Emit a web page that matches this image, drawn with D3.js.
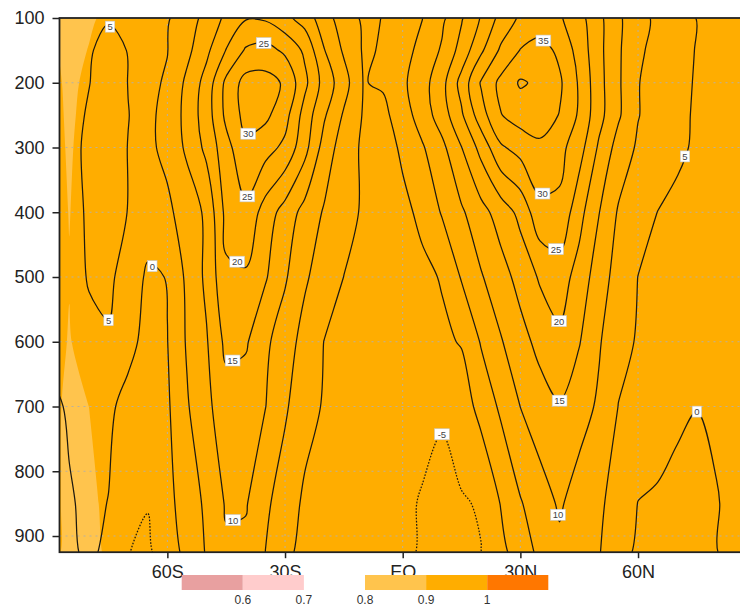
<!DOCTYPE html>
<html><head><meta charset="utf-8">
<script src="https://cdn.jsdelivr.net/npm/d3@7"></script>
<style>body{margin:0;background:#fff} svg{display:block}</style>
</head><body><svg id="c" width="740" height="608"></svg>
<script>
// ---------------- data ----------------
const lats = [-90,-85,-80,-75,-70,-65,-60,-55,-50,-45,-40,-35,-30,-25,-20,-15,-10,-5,0,5,10,15,20,25,30,35,40,45,50,55,60,65,70,75,80,85,90];
const levels = [100,150,200,250,300,400,500,600,700,850,925];
// zonal wind (m/s), one row per pressure level
const u100 = [2.5,3.3,3.9,4.75,4.9,3.8,4.6,7.3,11.8,16.0,19.6,19.3,16.3,12.9,7.1,2.5,-0.75,0.1,2.5,4.9,8.9,14.5,20.4,26.6,30.8,32,30.6,26.8,21.3,15.8,11.8,8.9,6.8,4.9,4.2,3.5,3];
const u150 = [3,3.7,4.7,6,4.9,4.3,4.9,8.7,13.9,20.2,25.6,26.8,24.1,19.1,10.2,4.3,-0.5,0.3,3.2,6.5,10.6,16.9,24.2,30.8,35.2,37.1,33.9,28.1,21.4,15.7,10.9,8.4,6.4,4.8,4.2,3.5,3];
const u200 = [2.8,3.6,4.9,6.5,4.95,4.2,5.4,11.1,16.9,26.2,31.9,31.8,29.4,21.3,13.0,7.1,-0.2,0.6,4.1,8.0,13.3,21.8,30.5,36.3,40.6,39.0,35.8,29.4,21.7,15.7,10.2,8,6,4.7,4.1,3.5,3];
const u250 = [2.8,3.8,5.35,6.5,5.05,4.2,6.1,11.7,17.5,26.2,31.6,31.1,26.9,18,10.6,4.4,-0.4,-1.3,2.7,7.3,12.5,19.3,27.9,34.8,37.2,37.5,34.8,29.3,21.7,15.7,10.2,7.9,5.8,4.6,4.1,3.5,3];
const u300 = [2.6,4.1,5.6,6.1,4.95,4.2,6,11,16.25,23.3,29,27,23.8,16.7,7.9,2.5,-0.8,-2.0,0.75,4.5,8.7,14.9,21.7,29.3,31.9,34,31.5,27.1,19.3,13,9.3,7.7,5.4,4.7,4.1,3.5,3];
const u400 = [2.5,3.9,5.4,5.85,4.95,3.3,4.2,6.8,11.05,21.5,24.0,17.7,13,8.3,4.5,1.8,-0.6,-2.5,-1.1,1.0,5.4,9.3,13.3,17.2,21.4,28.5,29,21.7,15.2,9.5,7.1,4.95,4.5,4.0,3.5,3.2,3];
const u500 = [2.8,3.8,5.2,5.6,3.7,-1.0,0.2,6,11.05,19.2,19.3,15.5,10.6,5.7,2.6,-0.05,-1.3,-2.5,-2.25,-1,0.3,5.4,9.6,13,16.7,20.6,22.3,18.1,12.3,8.1,4.95,4.3,3.6,3.0,2.8,2.7,2.5];
const u600 = [1.2,2.3,4.3,4.7,1.3,-1.4,-0.1,5.5,9.6,16.3,15.6,11,7.3,3.3,-0.1,-1.0,-2.06,-3.1,-2.9,-1.9,-0.8,0.3,5.4,9.6,13.2,16.5,19.0,15.3,10.5,6.5,4.6,3.9,3.2,2.5,2.3,2.1,2];
const u700 = [-1.2,0.55,2.5,0.8,-1.4,-3.0,-0.7,4.5,9,12.5,12.3,10.1,5.7,1.7,-0.4,-1.1,-1.9,-2.8,-3.5,-4.2,-4.6,-2.5,1.6,5.85,10.05,12.7,14.6,12,9.3,4.9,3.5,2.5,0.9,0.05,0.3,1,1.2];
const u850 = [-1.5,-0.4,0.9,-0.1,-2.9,-4.8,-1.3,2.1,6.0,10.5,10.4,5.95,2.5,-0.8,-1.6,-2.4,-3.2,-3.9,-4.5,-5.2,-6,-5.4,-4.6,0.2,4.6,7.8,10.6,7.85,5.8,3.1,-0.1,-0.7,-1.4,-0.9,-0.1,0.5,1];
const u925 = [-2,-0.8,0.85,-1.0,-4.9,-5.8,-2.5,1.4,5.4,9.2,8.8,4.95,0.5,-0.6,-1.3,-2.1,-2.9,-3.6,-4.4,-5.3,-6.3,-5.9,-5.1,-1.4,2.5,6.1,9,7.1,5.3,1.8,-0.8,-1.2,-2,-1.0,-0.05,0.6,1.2];
const uRows = [u100,u150,u200,u250,u300,u400,u500,u600,u700,u850,u925];
const contourLevels = [-5,0,5,10,15,20,25,30,35,40];

// shaded field (correlation) on a coarse latitude set
const corrLats = [-90,-85,-80,-75,-70,90];
const c100 = [0.90,0.84,0.88,0.93,0.95,0.95];
const c150 = [0.93,0.855,0.905,0.95,0.95,0.95];
const c200 = [0.95,0.87,0.93,0.95,0.95,0.95];
const c250 = [0.95,0.88,0.94,0.95,0.95,0.95];
const c300 = [0.95,0.887,0.95,0.95,0.95,0.95];
const c400 = [0.95,0.897,0.95,0.95,0.95,0.95];
const c500 = [0.95,0.905,0.95,0.95,0.95,0.95];
const c600 = [0.95,0.893,0.95,0.95,0.95,0.95];
const c700 = [0.96,0.86,0.90,0.95,0.95,0.95];
const c850 = [0.98,0.84,0.87,0.93,0.95,0.95];
const c925 = [0.99,0.83,0.86,0.92,0.95,0.95];
const corrRows = [c100,c150,c200,c250,c300,c400,c500,c600,c700,c850,c925];
const fillBreaks = [0.8,0.9,1.0];
const fillColors = ['#FFC44D','#FFAD00','#FF7700'];

const yTicks = [100,200,300,400,500,600,700,800,900];
const xTickLats = [-60,-30,0,30,60];
const xTickLabels = ['60S','30S','EQ','30N','60N'];

const cbBreaks = [0.5,0.6,0.7,0.8,0.9,1.0,1.1];
const cbColors = ['#E8A0A0','#FFCCCC',null,'#FFC44D','#FFAD00','#FF7700'];
const cbLabels = [0.6,0.7,0.8,0.9,1];

const labelSpecs = [
  {v:5,lat:-72.6,p:105},{v:25,lat:-35.7,p:132},{v:30,lat:-38.8,p:285},{v:25,lat:-38.8,p:378},
  {v:20,lat:-42.6,p:480},{v:15,lat:-42.4,p:640},{v:10,lat:-43.1,p:878},{v:0,lat:-61.2,p:466},
  {v:5,lat:-76.5,p:573},{v:35,lat:35.5,p:137},{v:30,lat:35.5,p:369},{v:25,lat:39,p:458},
  {v:20,lat:39,p:571},{v:15,lat:39,p:695},{v:10,lat:39,p:868},{v:-5,lat:9.5,p:735},
  {v:5,lat:72.5,p:315},{v:0,lat:76.4,p:705}
];

// ---------------- drawing ----------------
const FONT = "'Liberation Sans', Arial, Helvetica, sans-serif";
const svg = d3.select('#c');
const X0 = 59.5, X1 = 745.9, Y0 = 18, Y1 = 552.2;
const x = d3.scaleLinear().domain([-87.5, 87.5]).range([X0, X1]);
const y = d3.scaleLinear().domain([100, 925]).range([Y0, Y1]);

function makeProj(latArr, levArr) {
  const li = d3.scaleLinear().domain(latArr.map((d,i)=>i)).range(latArr);
  const pi = d3.scaleLinear().domain(levArr.map((d,i)=>i)).range(levArr);
  const toPx = c => [x(li(c[0]-0.5)), y(pi(c[1]-0.5))];
  return {toPx};
}
const smoothLine = d3.line().curve(d3.curveCatmullRomClosed.alpha(0.5));
function smoothPath(mp, toPx) {
  let s = '';
  mp.coordinates.forEach(poly => poly.forEach(ring => {
    const pts = ring.slice(0, -1).map(toPx);
    if (pts.length > 2) s += smoothLine(pts);
  }));
  return s;
}

svg.append('rect').attr('width',740).attr('height',608).attr('fill','#fff');
svg.append('defs').append('clipPath').attr('id','clip').append('rect')
  .attr('x',X0).attr('y',Y0).attr('width',X1-X0).attr('height',Y1-Y0);

const plot = svg.append('g').attr('clip-path','url(#clip)');

// shading
const cp = makeProj(corrLats, levels);
const cc = d3.contours().size([corrLats.length, levels.length]).thresholds(fillBreaks)(corrRows.flat());
plot.selectAll('path.fill').data(cc).join('path').attr('class','fill')
  .attr('d', d => smoothPath(d, cp.toPx)).attr('fill',(d,i)=>fillColors[i]).attr('fill-rule','evenodd').attr('stroke','none');

// grid
plot.selectAll('line.gy').data(yTicks.slice(1)).join('line').attr('class','gy')
  .attr('x1',X0).attr('x2',X1).attr('y1',d=>y(d)).attr('y2',d=>y(d))
  .attr('stroke','#b9b0a0').attr('stroke-width',1).attr('stroke-dasharray','2,4');
plot.selectAll('line.gx').data(xTickLats).join('line').attr('class','gx')
  .attr('x1',d=>x(d)).attr('x2',d=>x(d)).attr('y1',Y0).attr('y2',Y1)
  .attr('stroke','#b9b0a0').attr('stroke-width',1).attr('stroke-dasharray','2,4');

// contours
const up = makeProj(lats, levels);
const uc = d3.contours().size([lats.length, levels.length]).thresholds(contourLevels)(uRows.flat());
plot.selectAll('path.ct').data(uc).join('path').attr('class','ct')
  .attr('d', d => smoothPath(d, up.toPx)).attr('fill','none').attr('stroke','#1e1a10').attr('stroke-width',1.25)
  .attr('stroke-linejoin','round')
  .attr('stroke-dasharray', d => d.value < 0 ? '1.6,1.6' : null);

// contour labels snapped onto their line
const lab = svg.append('g');
labelSpecs.forEach(s => {
  const c = uc.find(d => d.value === s.v);
  if (!c) return;
  const tx = x(s.lat), ty = y(s.p);
  let best = [tx, ty], bd = Infinity;
  c.coordinates.forEach(poly => poly.forEach(ring => {
    const pts = ring.map(up.toPx);
    for (let k = 0; k < pts.length - 1; k++) {
      const [ax, ay] = pts[k], [bx, by] = pts[k+1];
      const dx = bx-ax, dy = by-ay, L = dx*dx+dy*dy;
      let t = L ? ((tx-ax)*dx + (ty-ay)*dy)/L : 0;
      t = Math.max(0, Math.min(1, t));
      const px = ax+t*dx, py = ay+t*dy;
      if (px < X0+4 || px > 738 || py < Y0+2 || py > Y1-4) continue;
      const dd = (px-tx)**2 + (py-ty)**2;
      if (dd < bd) { bd = dd; best = [px, py]; }
    }
  }));
  const txt = String(s.v);
  const w = txt.length * 5.4 + 4;
  const g = lab.append('g').attr('transform', `translate(${best[0]},${best[1]})`);
  g.append('rect').attr('x',-w/2).attr('y',-5.5).attr('width',w).attr('height',11)
    .attr('fill','#fff').attr('stroke','#c8c8c8').attr('stroke-width',0.6);
  g.append('text').attr('text-anchor','middle').attr('y',3.5)
    .attr('font-family',FONT).attr('font-size',9.5).attr('fill','#444').text(txt);
});

// frame
svg.append('rect').attr('x',X0).attr('y',Y0).attr('width',X1-X0).attr('height',Y1-Y0)
  .attr('fill','none').attr('stroke','#222').attr('stroke-width',1.8);

// axes
const gy = svg.append('g').attr('transform',`translate(${X0},0)`)
  .call(d3.axisLeft(y).tickValues(yTicks).tickSize(7).tickPadding(8));
gy.select('.domain').remove();
gy.attr('font-size',18).attr('font-family',FONT);
gy.selectAll('text').attr('fill','#222');
gy.selectAll('line').attr('stroke','#222').attr('stroke-width',1.5);

const gx = svg.append('g').attr('transform',`translate(0,${Y1})`)
  .call(d3.axisBottom(x).tickValues(xTickLats).tickFormat((d,i)=>xTickLabels[i]).tickSize(6).tickPadding(7));
gx.select('.domain').remove();
gx.attr('font-size',18).attr('font-family',FONT);
gx.selectAll('text').attr('fill','#222');
gx.selectAll('line').attr('stroke','#222').attr('stroke-width',1.5);

// colour bar
const cb = d3.scaleLinear().domain([0.5,1.1]).range([181.7,548.3]);
const boxes = cbColors.map((c,i)=>({c, a:cbBreaks[i], b:cbBreaks[i+1]})).filter(d=>d.c);
svg.selectAll('rect.cb').data(boxes).join('rect').attr('class','cb')
  .attr('x',d=>cb(d.a)).attr('width',d=>cb(d.b)-cb(d.a)).attr('y',575).attr('height',15)
  .attr('fill',d=>d.c);
svg.selectAll('text.cbl').data(cbLabels).join('text').attr('class','cbl')
  .attr('x',d=>cb(d)).attr('y',604).attr('text-anchor','middle')
  .attr('font-family',FONT).attr('font-size',12).attr('fill','#333').text(d=>d);
</script></body></html>
